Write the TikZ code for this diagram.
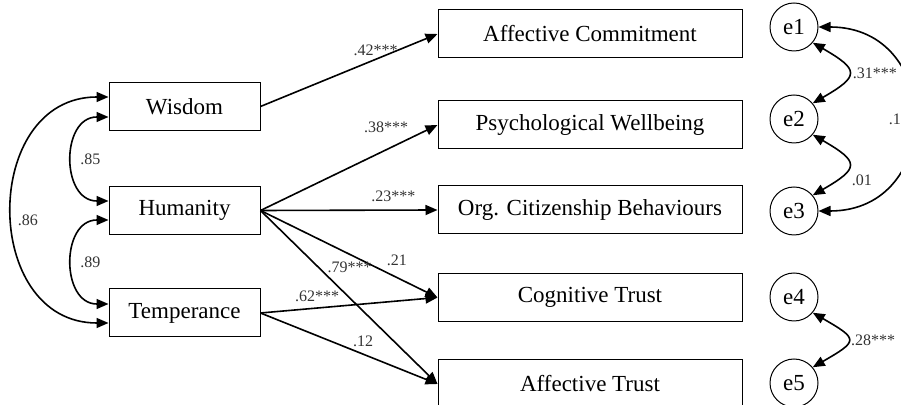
\documentclass[tikz,border=0pt]{standalone}
\usepackage{fontspec}
\setmainfont{Liberation Serif}
\usetikzlibrary{arrows.meta}

\begin{document}
\begin{tikzpicture}[x=0.5pt,y=0.5pt,
  varbox/.style={draw,line width=0.5pt,minimum height=24pt,inner sep=0pt,
                 font=\fontsize{11.5}{13}\selectfont},
  predbox/.style={varbox,minimum width=75.5pt},
  outbox/.style={varbox,minimum width=152pt},
  errnode/.style={draw,circle,line width=0.5pt,minimum size=24pt,inner sep=0pt,
                  font=\fontsize{11.5}{13}\selectfont},
  arr/.style={-{Triangle[length=6pt,width=5pt]},line width=0.8pt},
  biarr/.style={{Triangle[length=6pt,width=5pt]}-{Triangle[length=6pt,width=5pt]},
                line width=0.8pt},
  coef/.style={font=\fontsize{8}{9}\selectfont,text=black!80,inner sep=1pt}]

  \useasboundingbox (0,0) rectangle (901,-405);

  \node[predbox] (wis) at (184.5,-106.5) {Wisdom};
  \node[predbox] (hum) at (184.5,-210.5) {Humanity};
  \node[predbox] (tem) at (184.5,-313)   {Temperance};

  \node[outbox] (ac)  at (590,-34)    {Affective Commitment};
  \node[outbox] (pw)  at (590,-125)   {Psychological Wellbeing};
  \node[outbox] (ocb) at (590,-210)   {Org. Citizenship Behaviours};
  \node[outbox] (ct)  at (590,-297.5) {Cognitive Trust};
  \node[outbox] (at)  at (590,-384)   {Affective Trust};

  \node[errnode] (e1) at (794,-27)  {e1};
  \node[errnode] (e2) at (794,-119) {e2};
  \node[errnode] (e3) at (794,-211) {e3};
  \node[errnode] (e4) at (794,-297) {e4};
  \node[errnode] (e5) at (794,-383) {e5};

  \draw[arr] (wis.east) -- (ac.west)  node[coef,pos=0.65,above=0.5pt] {.42***};
  \draw[arr] (hum.east) -- (pw.west)  node[coef,pos=0.71,above=7pt]   {.38***};
  \draw[arr] (hum.east) -- (ocb.west) node[coef,pos=0.75,above=2.6pt] {.23***};
  \draw[arr] (hum.east) -- (ct.west)  node[coef,pos=0.77,above=4.6pt] {.21};
  \draw[arr] (hum.east) -- (at.west)  node[coef,pos=0.33,right=3pt]   {.79***};
  \draw[arr] (tem.east) -- (ct.west)  node[coef,pos=0.32,above=1.9pt] {.62***};
  \draw[arr] (tem.east) -- (at.west)  node[coef,pos=0.58,above=2.4pt] {.12};

  \draw[biarr] ([yshift=4.75pt]wis.west) to[out=180,in=180,looseness=1.45]
    node[coef,pos=0.53,right=1pt] {.86} ([yshift=-5pt]tem.west);
  \draw[biarr] ([yshift=-5.25pt]wis.west) to[out=180,in=180,looseness=1.46]
    node[coef,pos=0.5,right=2.5pt] {.85} ([yshift=4.75pt]hum.west);
  \draw[biarr] ([yshift=-4.75pt]hum.west) to[out=180,in=180,looseness=1.46]
    node[coef,pos=0.5,right=2.5pt] {.89} ([yshift=4.5pt]tem.west);

  \draw[biarr] (e1.-40) to[out=-30,in=30,looseness=2.3]
    node[coef,pos=0.5,right=1pt] {.31***} (e2.40);
  \draw[biarr] (e2.-40) to[out=-30,in=30,looseness=2.3]
    node[coef,pos=0.78,right=6pt] {.01} (e3.40);
  \draw[biarr] (e1.east) to[out=0,in=0,looseness=1.75]
    node[coef,pos=0.5,anchor=west,xshift=-13.3pt] {.16} (e3.east);
  \draw[biarr] (e4.-40) to[out=-30,in=30,looseness=2.5]
    node[coef,pos=0.5,right=0.5pt] {.28***} (e5.40);
\end{tikzpicture}
\end{document}
